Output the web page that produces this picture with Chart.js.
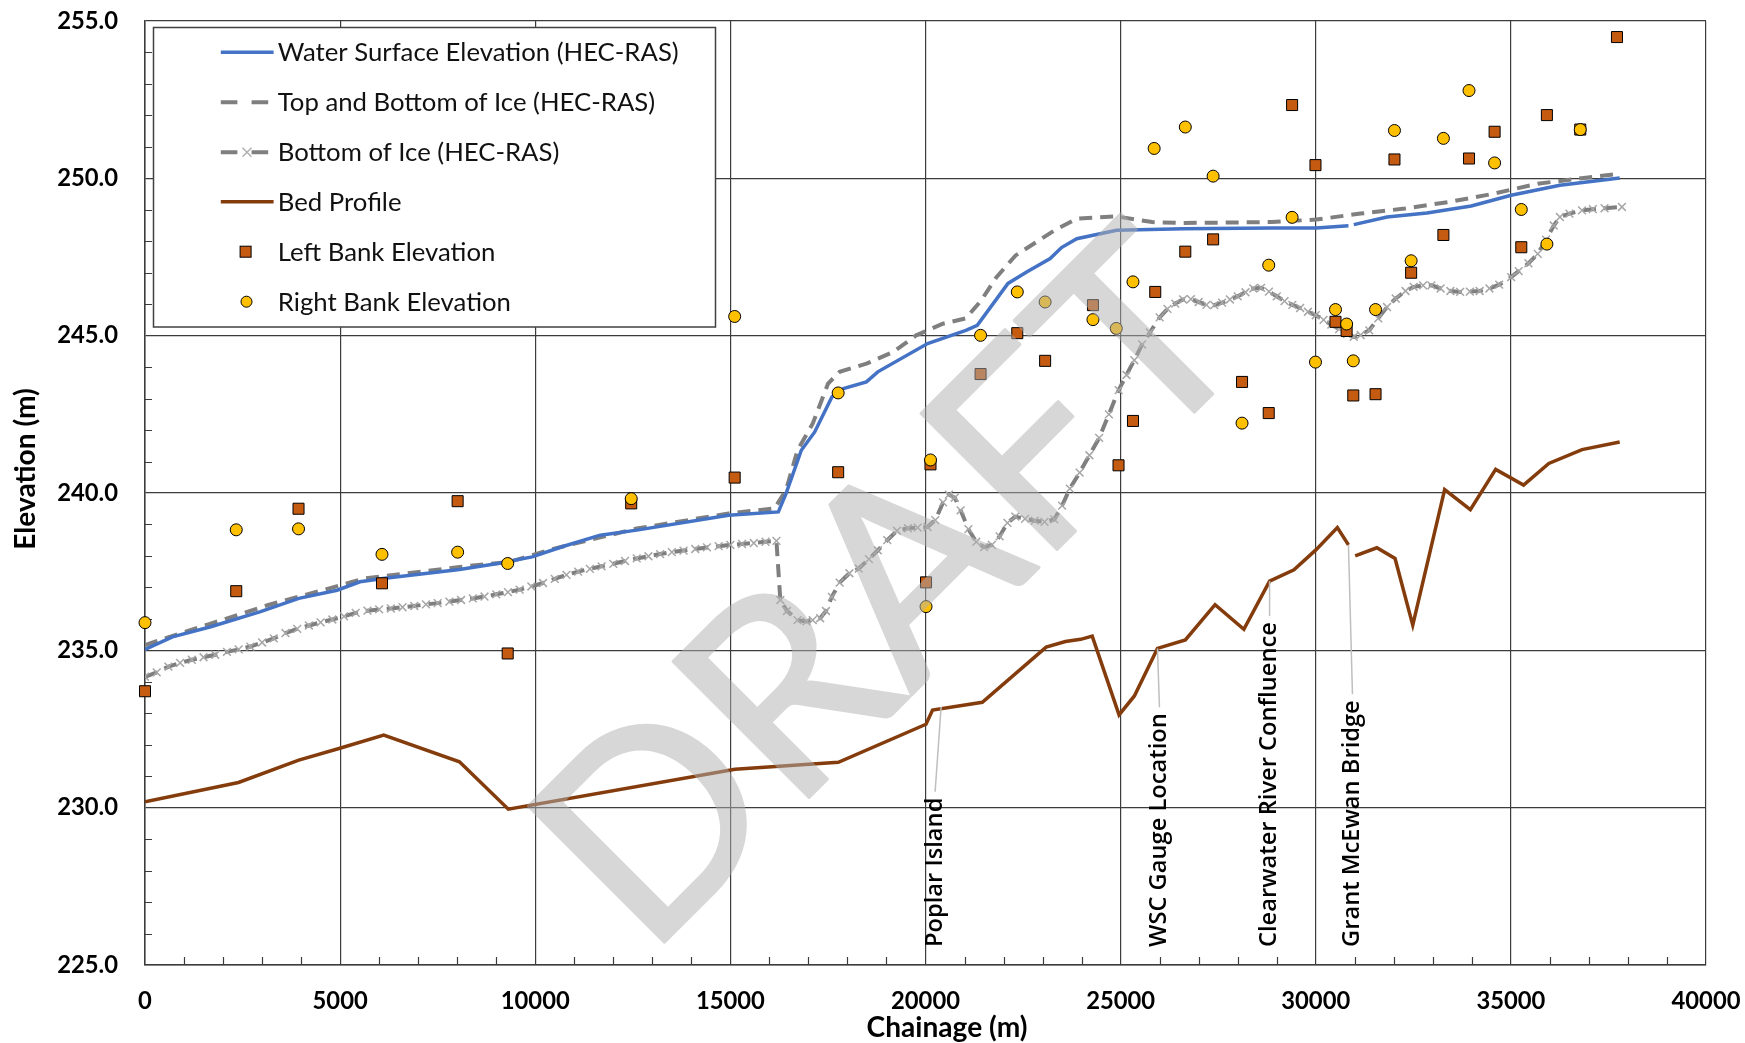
<!DOCTYPE html>
<html><head><meta charset="utf-8">
<script src="https://cdn.jsdelivr.net/npm/chart.js@4.4.1/dist/chart.umd.min.js"></script>
<style>html,body{margin:0;padding:0;background:#fff;}#wrap{width:1745px;height:1043px;position:relative;}</style>
</head><body><div id="wrap"><canvas id="c" width="1745" height="1043"></canvas></div>
<script>
// ---------------- DATA ----------------
const X_TICKS = [0,5000,10000,15000,20000,25000,30000,35000,40000];
const Y_TICKS = [225,230,235,240,245,250,255];
const SERIES = ['Water Surface Elevation (HEC-RAS)','Top and Bottom of Ice (HEC-RAS)','Bottom of Ice (HEC-RAS)','Bed Profile','Left Bank Elevation','Right Bank Elevation'];

const WSE_CH = [0,705,1686,2960,3941,4922,5509,6098,8058,9039,9923,10707,11666,12600,14955,16229,16426,16818,17161,17602,17896,18486,18778,20054,21035,21327,22114,22603,23195,23485,23876,24899,26603,28873,30010,30838,30900,30974,31827,32849,33985,35007,36257,37789];
const WSE_EL = [235.03,235.43,235.75,236.23,236.65,236.91,237.18,237.28,237.57,237.76,237.97,238.30,238.66,238.82,239.29,239.40,239.98,241.36,241.94,243.05,243.32,243.53,243.85,244.75,245.17,245.33,246.66,247.03,247.45,247.80,248.08,248.35,248.40,248.42,248.42,248.49,null,248.53,248.77,248.90,249.12,249.46,249.78,250.01];

const ICE_TOP_CH = [0,1686,3157,4725,5610,8058,9334,10513,12600,14955,16131,16426,16720,17112,17504,17799,18486,19172,19760,20445,21035,21427,21819,22308,23308,23876,24899,25808,26603,28873,30010,31146,32281,33416,34553,35689,37789];
const ICE_TOP_EL = [235.17,235.85,236.44,236.97,237.28,237.65,237.81,238.24,238.87,239.35,239.51,240.09,241.36,242.21,243.48,243.85,244.11,244.48,245.01,245.38,245.55,246.12,246.86,247.55,248.35,248.72,248.79,248.61,248.58,248.61,248.69,248.88,249.04,249.25,249.51,249.83,250.15];

const ICE_BOT_CH = [0,300,600,900,1200,1500,1800,2100,2400,2700,3000,3300,3600,3900,4200,4500,4800,5100,5400,5700,6000,6300,6600,6900,7200,7500,7800,8100,8400,8700,9000,9300,9600,9900,10200,10500,10800,11100,11400,11700,12000,12300,12600,12900,13200,13500,13800,14100,14400,14700,15000,15300,15600,15900,16180,
16280,16450,16720,16950,17110,17300,17450,17600,17800,18050,18290,18550,18780,19020,19270,19550,19800,20050,20250,20450,20600,20750,20900,21100,21300,21500,21700,21900,22100,22300,22550,22800,23050,23300,23500,23700,23950,24200,24450,24700,24950,25150,25350,25550,25750,26000,26200,26400,26600,26800,27000,27200,27400,27600,27800,28000,28200,28400,28600,28800,29000,29200,29400,29600,29800,30000,30200,30400,30600,30800,30974,31150,31372,31600,31827,32050,32300,32509,32750,32963,33200,33450,33700,33950,34200,34450,34700,35007,35200,35450,35689,35900,36100,36257,36500,36823,37100,37400,37846];
const ICE_BOT_EL = [234.16,234.30,234.48,234.60,234.70,234.78,234.86,234.95,235.03,235.12,235.25,235.38,235.55,235.68,235.79,235.89,235.98,236.08,236.19,236.26,236.30,236.33,236.37,236.41,236.46,236.50,236.55,236.60,236.65,236.71,236.78,236.85,236.93,237.03,237.14,237.27,237.40,237.50,237.59,237.67,237.75,237.84,237.92,237.99,238.06,238.12,238.17,238.22,238.27,238.31,238.35,238.38,238.41,238.45,238.48,
236.60,236.25,235.96,235.92,235.96,236.02,236.25,236.70,237.15,237.45,237.60,237.90,238.18,238.50,238.80,238.88,238.90,238.92,239.14,239.70,239.95,239.85,239.45,238.85,238.45,238.28,238.35,238.62,239.05,239.25,239.18,239.12,239.08,239.16,239.60,240.14,240.65,241.20,241.75,242.50,243.27,243.75,244.22,244.72,245.10,245.58,245.85,246.02,246.15,246.16,246.07,245.98,245.97,246.05,246.15,246.25,246.38,246.50,246.52,246.40,246.25,246.10,245.98,245.88,245.76,245.65,245.50,245.35,245.21,245.05,244.96,245.02,245.17,245.55,245.91,246.18,246.42,246.55,246.60,246.60,246.50,246.42,246.39,246.40,246.42,246.50,246.62,246.86,247.05,247.30,247.60,248.05,248.50,248.77,248.88,248.98,249.02,249.05,249.09];

const BED_CH = [0,2396,3941,4971,6118,8058,9310,15119,17766,20013,20181,21455,23092,23585,23977,24272,24960,25352,25944,26659,27420,28158,28817,29442,30010,30554,30838,30920,31010,31566,32032,32486,33303,33962,34610,35325,35972,36823,37789];
const BED_EL = [230.19,230.80,231.51,231.88,232.31,231.46,229.95,231.22,231.44,232.65,233.10,233.35,235.10,235.28,235.35,235.45,232.95,233.55,235.06,235.33,236.45,235.67,237.20,237.56,238.20,238.90,238.35,null,238.00,238.26,237.92,235.80,240.11,239.47,240.75,240.25,240.94,241.38,241.62];

const LB_CH = [0,2338,3934,6073,8011,9294,12459,15110,17762,20128,20014,21411,22352,23065,24291,24946,25317,25887,26657,27370,28111,28795,29394,29993,30506,30791,30962,31532,32017,32444,33271,33927,34583,35267,35923,36778,37719];
const LB_EL = [233.70,236.88,239.50,237.13,239.74,234.90,239.67,240.49,240.66,240.91,237.16,243.78,245.08,244.20,245.97,240.88,242.29,246.39,247.67,248.06,243.53,242.54,252.33,250.42,245.44,245.15,243.10,243.14,250.60,247.00,248.20,250.63,251.48,247.81,252.01,251.55,254.49];

const RB_CH = [0,2338,3934,6073,8011,9294,12459,15110,17762,20128,20014,21411,22352,23065,24291,24889,25317,25859,26657,27370,28111,28795,29394,29993,30506,30791,30962,31532,32017,32444,33271,33927,34583,35267,35923,36778];
const RB_EL = [235.88,238.83,238.86,238.05,238.12,237.76,239.82,245.61,243.18,241.05,236.39,245.01,246.39,246.07,245.51,245.23,246.71,250.95,251.63,250.07,242.22,247.24,248.76,244.16,245.83,245.37,244.20,245.83,251.52,247.38,251.27,252.79,250.49,249.01,247.91,251.55];

const SITE_LABELS = ['Poplar Island','WSC Gauge Location','Clearwater River Confluence','Grant McEwan Bridge'];
const SITE_CH = [20400,25944,28817,30838];
const SITE_EL = [233.20,235.06,237.20,238.35];

// ---------------- STYLE ----------------
const GRID = '#3c3c3c';
const SITE_DX = [-6,2,0,4];
const WM = {text:'DRAFT', cx:884, cy:584, angle:-45, capH:196, len:845, thick:3, color:'#b0b0b0', alpha:0.5};

const mctx = document.createElement('canvas').getContext('2d');
function fitSize(text, weight, family, target){ mctx.font = weight+' 100px '+family; return 100*target/mctx.measureText(text).width; }
const TICK_SIZE = fitSize('10000','bold','Lato',69);
const LEG_SIZE = fitSize(SERIES[0],'normal','Lato',401);
const TITLE_SIZE = fitSize('Chainage (m)','bold','Lato',161);
const ANN_SIZE = fitSize(SITE_LABELS[2],'600','"Open Sans"',325);

function pts(xs, ys){ return xs.map((x,i)=>({x:x, y:ys[i]})); }
function capHeight(font){ mctx.font = font; return mctx.measureText('H').actualBoundingBoxAscent; }

const decor = {
  id:'decor',
  beforeDatasetsDraw(chart){
    const {ctx, chartArea:a, scales:{x,y}} = chart;
    ctx.save(); ctx.strokeStyle = GRID; ctx.lineWidth = 1.2; ctx.beginPath();
    for(let v=1000; v<40000; v+=1000){ if(v%5000===0) continue; const px=Math.round(x.getPixelForValue(v))+0.5; ctx.moveTo(px,a.bottom); ctx.lineTo(px,a.bottom-8); }
    for(let v=226; v<255; v++){ if(v%5===0) continue; const py=Math.round(y.getPixelForValue(v))+0.5; ctx.moveTo(a.left,py); ctx.lineTo(a.left+7,py); }
    ctx.stroke(); ctx.restore();
  },
  afterDatasetsDraw(chart){
    const {ctx, chartArea:a, scales:{x,y}} = chart;
    // site annotations
    ctx.save();
    ctx.font = '600 '+ANN_SIZE+'px "Open Sans"'; ctx.fillStyle = '#000';
    SITE_LABELS.forEach((lab,i)=>{
      const ax = x.getPixelForValue(SITE_CH[i]), ay = y.getPixelForValue(SITE_EL[i]);
      const tx = ax + SITE_DX[i], ty = 947;
      const w = ctx.measureText(lab).width;
      ctx.strokeStyle = '#bfbfbf'; ctx.lineWidth = 1.5;
      ctx.beginPath(); ctx.moveTo(tx, ty - w - 6); ctx.lineTo(ax, ay); ctx.stroke();
      ctx.save(); ctx.translate(tx, ty); ctx.rotate(-Math.PI/2);
      ctx.textAlign='left'; ctx.textBaseline='middle'; ctx.fillText(lab,0,0); ctx.restore();
    });
    ctx.restore();
    // watermark
    const off = document.createElement('canvas'); off.width = chart.width; off.height = chart.height;
    const o = off.getContext('2d');
    o.font = '400 100px Lato';
    const m = o.measureText(WM.text);
    const size = 100*WM.capH/m.actualBoundingBoxAscent;
    o.font = '400 '+size+'px Lato';
    const m2 = o.measureText(WM.text);
    const sx = (WM.len - WM.thick)/(m2.actualBoundingBoxLeft + m2.actualBoundingBoxRight);
    o.translate(WM.cx, WM.cy); o.rotate(WM.angle*Math.PI/180); o.scale(sx,1);
    o.fillStyle = WM.color; o.strokeStyle = WM.color; o.lineWidth = WM.thick; o.lineJoin='round';
    o.textAlign='center'; o.textBaseline='alphabetic';
    o.fillText(WM.text,0,WM.capH/2); if (WM.thick>0) o.strokeText(WM.text,0,WM.capH/2);
    ctx.save(); ctx.globalAlpha = WM.alpha; ctx.drawImage(off,0,0); ctx.restore();
    // legend
    ctx.save();
    ctx.fillStyle='#fff'; ctx.fillRect(153.5,27.5,562,299.5);
    ctx.strokeStyle='#404040'; ctx.lineWidth=1.5; ctx.strokeRect(153.5,27.5,562,299.5);
    const lf = 'normal '+LEG_SIZE+'px Lato'; const ch = capHeight(lf);
    const ys = [52.3,102.3,152.3,201.8,251.7,301.7];
    const x0 = 220.8, x1 = 273.6;
    ctx.lineCap='butt';
    ctx.strokeStyle='#4472C4'; ctx.lineWidth=3.5; ctx.beginPath(); ctx.moveTo(x0,ys[0]); ctx.lineTo(x1,ys[0]); ctx.stroke();
    ctx.strokeStyle='#7f7f7f'; ctx.lineWidth=4; ctx.setLineDash([16.6,14.2]); ctx.beginPath(); ctx.moveTo(x0,ys[1]); ctx.lineTo(x1,ys[1]); ctx.stroke();
    ctx.beginPath(); ctx.moveTo(x0,ys[2]); ctx.lineTo(x1,ys[2]); ctx.stroke(); ctx.setLineDash([]);
    ctx.strokeStyle='#b0b0b0'; ctx.lineWidth=1.5; ctx.beginPath();
    ctx.moveTo(242.5,ys[2]-4.5); ctx.lineTo(251.5,ys[2]+4.5); ctx.moveTo(251.5,ys[2]-4.5); ctx.lineTo(242.5,ys[2]+4.5); ctx.stroke();
    ctx.strokeStyle='#843C0C'; ctx.lineWidth=3.5; ctx.beginPath(); ctx.moveTo(x0,ys[3]); ctx.lineTo(x1,ys[3]); ctx.stroke();
    ctx.fillStyle='#C55A11'; ctx.strokeStyle='#000'; ctx.lineWidth=1;
    ctx.fillRect(240.1,ys[4]-5.5,11,11); ctx.strokeRect(240.1,ys[4]-5.5,11,11);
    ctx.fillStyle='#FFC000'; ctx.beginPath(); ctx.arc(246.5,ys[5],5.5,0,Math.PI*2); ctx.fill(); ctx.stroke();
    ctx.font = lf; ctx.fillStyle='#111'; ctx.textAlign='left'; ctx.textBaseline='alphabetic';
    SERIES.forEach((s,i)=>ctx.fillText(s,277.8,ys[i]+ch/2));
    ctx.restore();
    // axis titles
    ctx.save();
    const tf = 'bold '+TITLE_SIZE+'px Lato'; const tch = capHeight(tf);
    ctx.font = tf; ctx.fillStyle='#000'; ctx.textAlign='center'; ctx.textBaseline='alphabetic';
    ctx.fillText('Chainage (m)', 947, 1026 + tch/2);
    ctx.translate(35, 469); ctx.rotate(-Math.PI/2); ctx.fillText('Elevation (m)', 0, 0);
    ctx.restore();
  }
};

const tickFont = {family:'Lato', size:TICK_SIZE, weight:'bold'};
new Chart(document.getElementById('c'), {
  type:'line',
  data:{datasets:[
    {label:SERIES[5], data:pts(RB_CH,RB_EL), showLine:false, pointStyle:'circle', pointRadius:6, pointBackgroundColor:'#FFC000', pointBorderColor:'#000', pointBorderWidth:1, order:0, clip:false},
    {label:SERIES[4], data:pts(LB_CH,LB_EL), showLine:false, pointStyle:'rect', pointRadius:7.8, pointBackgroundColor:'#C55A11', pointBorderColor:'#000', pointBorderWidth:1, order:1, clip:false},
    {label:SERIES[0], data:pts(WSE_CH,WSE_EL), borderColor:'#4472C4', borderWidth:3.5, pointRadius:0, tension:0, spanGaps:false, order:2},
    {label:SERIES[1], data:pts(ICE_TOP_CH,ICE_TOP_EL), borderColor:'#7f7f7f', borderWidth:4, borderDash:[13,8], pointRadius:0, tension:0, order:3},
    {label:SERIES[2], data:pts(ICE_BOT_CH,ICE_BOT_EL), borderColor:'#7f7f7f', borderWidth:4, borderDash:[13,8], pointRadius:5.5, pointStyle:'crossRot', pointBorderColor:'#a6a6a6', pointBorderWidth:1.5, tension:0, order:4},
    {label:SERIES[3], data:pts(BED_CH,BED_EL), borderColor:'#843C0C', borderWidth:3.5, pointRadius:0, tension:0, spanGaps:false, order:5}
  ]},
  options:{
    responsive:false, animation:false, devicePixelRatio:1, events:[],
    layout:{padding:{top:21,right:39,left:0,bottom:0}},
    plugins:{legend:{display:false}, tooltip:{enabled:false}},
    scales:{
      x:{type:'linear', min:0, max:40000,
        afterBuildTicks:s=>{s.ticks = X_TICKS.map(v=>({value:v}));},
        afterFit:s=>{s.height = 78; s.paddingLeft = 0; s.paddingRight = 0;},
        ticks:{callback:v=>String(v), font:tickFont, color:'#000', padding:22, maxRotation:0, autoSkip:false},
        grid:{color:GRID, lineWidth:1.2, drawTicks:false}, border:{color:GRID, width:1.5}},
      y:{type:'linear', min:225, max:255,
        afterBuildTicks:s=>{s.ticks = Y_TICKS.map(v=>({value:v}));},
        afterFit:s=>{s.width = 145; s.paddingTop = 0; s.paddingBottom = 0;},
        ticks:{callback:v=>Number(v).toFixed(1), font:tickFont, color:'#000', padding:27},
        grid:{color:GRID, lineWidth:1.3, drawTicks:false}, border:{color:GRID, width:1.5}}
    }
  },
  plugins:[decor]
});
</script></body></html>
